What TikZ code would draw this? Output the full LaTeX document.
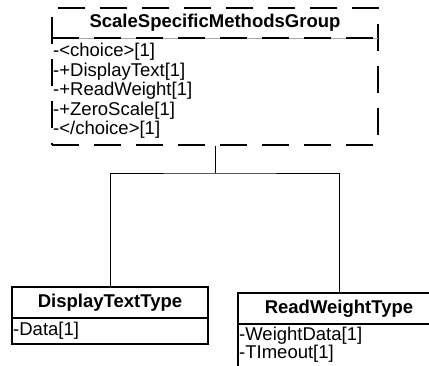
\documentclass[tikz,border=0pt]{standalone}
\usepackage{fontspec}
\setmainfont{Liberation Sans}

\begin{document}
\begin{tikzpicture}[x=1pt,y=-1pt,font=\fontsize{18.5}{19}\selectfont,
  groupline/.style={line width=1.4pt, dash pattern=on 27pt off 15pt},
  boxline/.style={line width=1.4pt},
  link/.style={line width=0.9pt},
  classtitle/.style={font=\fontsize{18.5}{19}\selectfont\bfseries, inner sep=0pt},
  member/.style={anchor=west, inner sep=0pt}]

  \useasboundingbox (0,0) rectangle (429,366);
  \clip (0,0) rectangle (429,366);

  % choice group (dashed)
  \node[draw, groupline, minimum width=326pt, minimum height=137pt, inner sep=0pt]
    (group) at (215,76.5) {};
  \draw[black!35, line width=0.6pt] (52,38) -- (378,38);
  \draw[groupline] (52,38) -- (378,38);
  \node[classtitle] (grouptitle) at (215,23) {ScaleSpecificMethodsGroup};
  \foreach \t [count=\k] in {{-<choice>[1]},{-+DisplayText[1]},{-+ReadWeight[1]},
      {-+ZeroScale[1]},{-</choice>[1]}}
    \node[member] (groupm\k) at (53,32.5+19.5*\k) {\t};

  % DisplayTextType
  \node[draw, boxline, minimum width=196pt, minimum height=57pt, inner sep=0pt]
    (display) at (110,315.5) {};
  \draw[boxline] (12,318) -- (208,318);
  \node[classtitle] (displaytitle) at (110,302.5) {DisplayTextType};
  \node[member] (displaym1) at (13,331) {-Data[1]};

  % ReadWeightType (runs off the page)
  \node[draw, boxline, minimum width=202pt, minimum height=79pt, inner sep=0pt]
    (weight) at (339,332.5) {};
  \draw[boxline] (238,324) -- (440,324);
  \node[classtitle] (weighttitle) at (339,308.5) {ReadWeightType};
  \foreach \t [count=\k] in {{-WeightData[1]},{-TImeout[1]}}
    \node[member] (weightm\k) at (239,318+18*\k) {\t};

  % connectors
  \coordinate (split) at (215,173);
  \draw[link] (group.south) -- (split);
  \draw[link] (display.north) |- (split) -| (weight.north);
\end{tikzpicture}
\end{document}
